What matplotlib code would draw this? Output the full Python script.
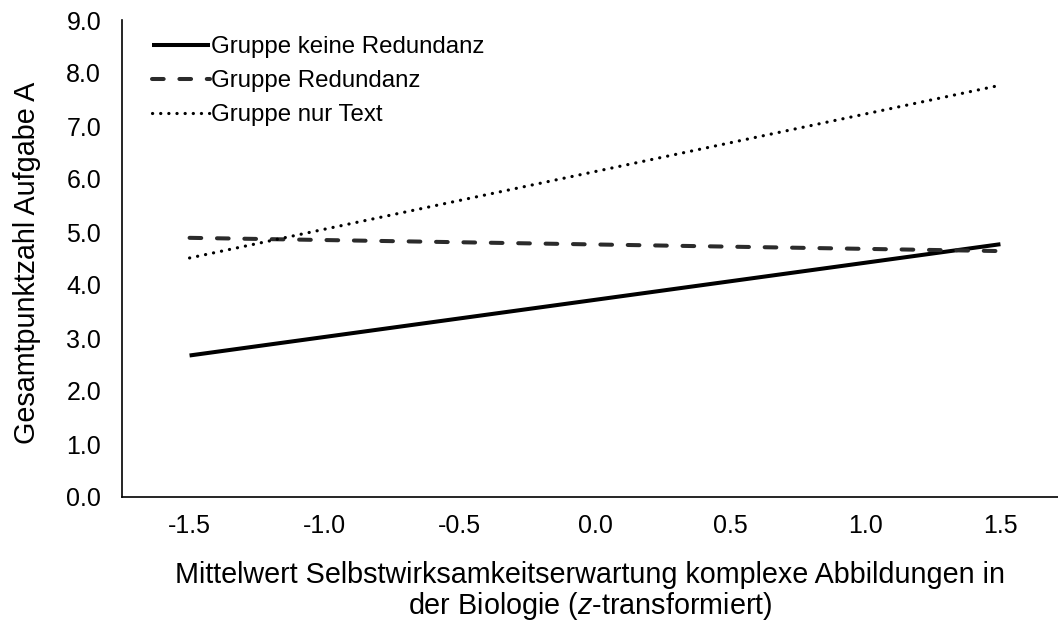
import matplotlib
matplotlib.use("Agg")
import matplotlib.pyplot as plt

plt.rcParams['font.family'] = ['Liberation Sans', 'DejaVu Sans']
plt.rcParams['mathtext.fontset'] = 'custom'
plt.rcParams['mathtext.it'] = 'Liberation Sans:italic'
plt.rcParams['mathtext.rm'] = 'Liberation Sans'

x_points = [-1.5, 1.5]
keine_redundanz = [2.67, 4.77]
redundanz = [4.89, 4.64]
nur_text = [4.51, 7.77]

x_ticks = [-1.5, -1.0, -0.5, 0.0, 0.5, 1.0, 1.5]
y_ticks = [0, 1, 2, 3, 4, 5, 6, 7, 8, 9]

fig = plt.figure(figsize=(10.58, 6.2), dpi=100)
W, H = 1058, 620
left, right, top, bottom = 122, 1068, 20, 497
ax = fig.add_axes([left / W, 1 - bottom / H, (right - left) / W, (bottom - top) / H])

ax.plot(x_points, keine_redundanz, color='black', lw=2.9, solid_capstyle='butt',
        label='Gruppe keine Redundanz')
ax.plot(x_points, redundanz, color='#2b2b2b', lw=2.9, dashes=(2.9, 3.9),
        dash_capstyle='round', label='Gruppe Redundanz')
ax.plot(x_points, nur_text, color='black', lw=2.3, dashes=(0.05, 2.5),
        dash_capstyle='round', label='Gruppe nur Text')

ax.set_xlim(-1.75, 1.75)
ax.set_ylim(0, 9)
ax.set_xticks(x_ticks)
ax.set_xticklabels([f"{v:.1f}" for v in x_ticks])
ax.set_yticks(y_ticks)
ax.set_yticklabels([f"{v:.1f}" for v in y_ticks])
ax.tick_params(axis='both', length=0, labelsize=18, colors='black')
ax.tick_params(axis='y', pad=15)
ax.tick_params(axis='x', pad=12)

for s in ['top', 'right']:
    ax.spines[s].set_visible(False)
for s in ['left', 'bottom']:
    ax.spines[s].set_linewidth(1.2)
    ax.spines[s].set_color('black')

ax.set_ylabel('Gesamtpunktzahl Aufgabe A', fontsize=20.7)
ax.yaxis.set_label_coords(-(122 - 41) / (right - left), 0.49)

fig.text(590 / W, 1 - 583 / H,
         'Mittelwert Selbstwirksamkeitserwartung komplexe Abbildungen in',
         ha='center', va='baseline', fontsize=20.7)
fig.text(590 / W, 1 - 614 / H,
         'der Biologie ($\\mathit{z}$-transformiert)',
         ha='center', va='baseline', fontsize=20.7)

leg = ax.legend(loc='upper left', bbox_to_anchor=(18 / (right - left), 1 - 4 / (bottom - top)),
                frameon=False, fontsize=17.3, handlelength=2.4, handletextpad=0.05,
                labelspacing=0.5, borderaxespad=0.3, borderpad=0.2)

fig.savefig('out.png', dpi=100)
